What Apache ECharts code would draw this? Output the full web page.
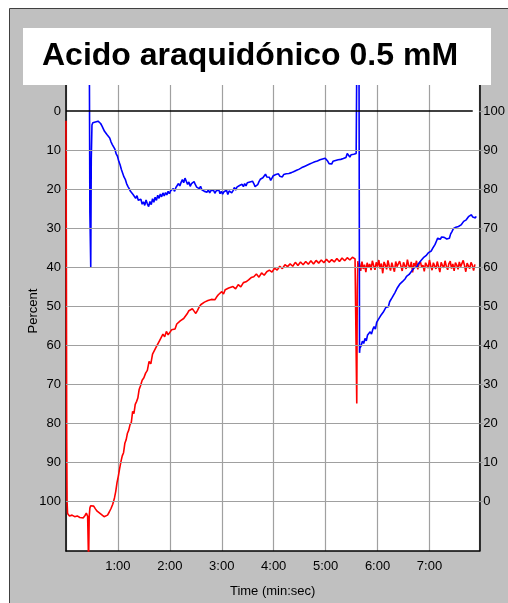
<!DOCTYPE html>
<html>
<head>
<meta charset="utf-8">
<script src="https://cdn.jsdelivr.net/npm/echarts@6/dist/echarts.min.js"></script>
<style>
html,body{margin:0;padding:0;background:#fff;}
#chart{width:508px;height:603px;}
</style>
</head>
<body>
<div id="chart"></div>
<script>
// ---- data (time in seconds, value in percent on left axis) ----
const titleText = 'Acido araquidónico 0.5 mM';
const yAxisTitle = 'Percent';
const xTicks = [60, 120, 180, 240, 300, 360, 420];
const xTickLabels = ['1:00', '2:00', '3:00', '4:00', '5:00', '6:00', '7:00'];
const yTicks = [0, 10, 20, 30, 40, 50, 60, 70, 80, 90, 100];
const yRightLabels = [100, 90, 80, 70, 60, 50, 40, 30, 20, 10, 0];

const redT = [0,0.4,0.8,1.2,1.8,4,7,10,13,16,18,20,22,23.5,25,25.8,26.1,26.5,26.8,27.6,28.5,30,32,34,36,38,40,42,44,46,48,50,52,54,56,57.5,59,60.5,62,63.5,65,66.5,68,69.5,71,72.5,74,75.5,77,78.5,80,81.5,83,84.5,86,88,90,92,94,96,98,100,102,104,106,108,110,112,114,116,118,120,122,124,126,128,130,132,134,136,138,140,142,144,146,148,150,152,154,156,158,160,162,164,166,168,170,172,174,176,178,180,182,184,186,188,190,193,196,199,202,205,208,211,214,217,220,223,226,229,232,235,238,241,244,247,250,253,256,259,262,265,268,271,274,277,280,283,286,289,292,295,298,301,304,307,310,313,316,319,322,325,328,331,334,336,336.6,337.2,337.8,339,340.5,342,343.5,345,346.5,348,349.5,351,352.5,354,355.5,357,358.5,360,361.5,363,364.5,366,367.5,369,370.5,372,373.5,375,376.5,378,379.5,381,382.5,384,385.5,387,388.5,390,391.5,393,394.5,396,397.5,399,400.5,402,403.5,405,406.5,408,409.5,411,412.5,414,415.5,417,418.5,420,421.5,423,424.5,426,427.5,429,430.5,432,433.5,435,436.5,438,439.5,441,442.5,444,445.5,447,448.5,450,451.5,453,454.5,456,457.5,459,460.5,462,463.5,465,466.5,468,469.5,471,472.5,474];
const redV = [2.5,40,84,100,103.2,103.8,103.6,104.0,103.8,104.2,103.9,104.3,103.7,103.1,103.9,104.2,116,116,104,101.8,101.2,101.5,101.3,102.0,102.6,102.9,103.3,103.8,104.0,103.9,103.6,102.8,101.9,100.8,99.2,97.5,95.2,93.6,91.6,89.9,88.4,87.6,85.2,84.3,82.6,81.8,80.4,79.8,77.0,77.6,75.2,74.5,73.6,71.4,70.5,69.0,68.4,67.2,66.5,64.2,64.8,62.3,61.9,60.6,60.1,58.9,58.4,57.2,57.9,56.5,57.4,57.0,56.1,55.6,55.9,54.6,54.9,53.8,54.1,53.2,52.9,52.0,51.2,51.6,50.7,51.3,51.9,51.1,50.2,49.6,49.8,49.0,49.4,48.6,48.9,48.3,48.0,48.4,47.7,47.1,46.6,46.3,46.9,45.8,46.2,45.4,45.8,45.0,45.6,44.5,45.1,44.0,43.8,43.3,42.7,42.5,41.8,42.6,41.5,42.1,41.2,40.8,41.3,40.3,40.8,39.8,40.4,39.4,39.9,39.2,39.8,38.8,39.6,38.7,39.4,38.6,39.3,38.4,39.2,38.3,39.0,38.2,38.9,38.0,38.8,38.1,38.7,37.8,38.6,37.7,38.4,37.6,38.2,37.5,37.9,75,46,38.5,40.2,39.0,41.0,38.6,40.5,39.4,41.3,38.9,40.1,39.2,40.8,38.4,39.6,40.7,38.8,39.9,38.2,40.4,39.1,41.6,38.7,39.5,40.6,38.3,39.8,40.9,38.9,39.4,41.2,38.6,39.9,40.3,38.5,39.7,41.0,38.8,39.3,40.5,38.1,39.6,40.2,38.7,41.4,39.0,39.8,38.4,40.6,39.2,38.6,40.1,39.5,41.1,38.9,39.4,40.3,38.2,39.7,40.8,38.9,39.3,40.5,38.6,39.9,41.3,38.8,39.6,40.2,38.4,39.8,40.7,39.1,38.5,40.4,39.2,41.0,38.9,39.5,40.6,38.7,39.9,40.3,38.3,39.6,41.2,39.0,39.7,40.4,38.8,39.5,40.9,39.3];

const blueT = [27.0,27.6,28.6,29.2,30.0,31,32.5,34,35.5,37,38.5,40,41.5,43,44.5,46,47.5,49,50.5,52,53.5,55,56.5,58,59.5,61,62.5,64,65.5,67,68.5,70,71.5,73,74.5,76,77.5,79,80.5,82,83.5,85,86.5,88,89.5,91,92.5,94,95.5,97,98.5,100,101.5,103,104.5,106,107.5,109,110.5,112,113.5,115,116.5,118,119.5,121,122.5,124,125.5,127,128.5,130,131.5,133,134.5,136,137.5,139,140.5,142,143.5,145,146.5,148,149.5,151,152.5,154,155.5,157,158.5,160,161.5,163,164.5,166,167.5,169,170.5,172,173.5,175,176.5,178,179.5,181,182.5,184,185.5,187,188.5,190,191.5,193,194.5,196,197.5,199,200.5,202,203.5,205,206.5,208,209.5,211,212.5,214,215.5,217,218.5,220,221.5,223,224.5,226,227.5,229,230.5,232,233.5,235,236.5,238,239.5,241,242.5,244,245.5,247,248.5,250,251.5,253,254.5,256,257.5,259,260.5,262,263.5,265,266.5,268,269.5,271,272.5,274,275.5,277,278.5,280,281.5,283,284.5,286,287.5,289,290.5,292,293.5,295,296.5,298,299.5,301,302.5,304,305.5,307,308.5,310,311.5,313,314.5,316,317.5,319,320.5,322,323.5,325,326.5,328,329.5,331,332.5,334,335.3,336,338.6,339.2,339.6,341,342.5,344,345.5,347,348.5,350,351.5,353,354.5,356,357.5,359,360.5,362,363.5,365,366.5,368,369.5,371,372.5,374,375.5,377,378.5,380,381.5,383,384.5,386,387.5,389,390.5,392,393.5,395,396.5,398,399.5,401,402.5,404,405.5,407,408.5,410,411.5,413,414.5,416,417.5,419,420.5,422,423.5,425,426.5,428,429.5,431,432.5,434,435.5,437,438.5,440,441.5,443,444.5,446,447.5,449,450.5,452,453.5,455,456.5,458,459.5,461,462.5,464,465.5,467,468.5,470,471.5,473,474];
const blueV = [-12,26,40,12.5,3.6,3.0,3.3,2.8,3.1,2.6,3.0,3.2,3.8,4.3,5.2,5.0,6.1,6.4,6.9,7.9,8.6,9.2,9.8,11.0,11.6,12.9,13.8,15.0,15.5,16.9,17.5,18.6,19.3,19.9,20.6,20.3,21.4,21.9,22.4,21.7,22.9,23.4,22.6,23.9,23.3,24.2,22.8,23.8,24.5,23.2,24.0,22.5,23.4,22.1,22.9,21.6,22.4,21.3,22.0,21.0,21.8,20.9,21.5,20.6,21.2,20.4,20.9,19.9,20.6,19.6,19.1,18.6,19.2,18.3,17.6,18.4,17.2,18.0,18.8,18.2,19.3,18.6,19.0,18.1,18.9,19.5,19.1,19.9,19.3,20.2,19.8,20.6,20.1,20.8,20.2,21.0,20.4,20.9,20.3,21.1,20.5,20.9,20.2,21.2,20.6,21.3,20.7,21.0,20.3,21.4,20.5,20.1,21.0,20.4,19.6,20.3,19.5,19.9,19.1,19.6,18.8,19.4,18.6,19.2,18.4,18.9,18.2,18.7,18.0,18.6,19.4,19.8,18.9,18.1,17.5,17.9,17.1,16.6,16.2,16.9,17.4,17.0,17.8,17.2,16.6,17.1,16.3,16.8,16.1,16.7,16.2,16.9,16.3,16.8,16.1,16.6,16.0,16.5,15.8,16.2,15.5,15.9,15.2,15.6,14.9,15.1,14.5,14.9,14.2,14.6,13.9,14.3,13.6,14.0,13.3,13.7,13.0,13.4,12.8,13.2,12.5,12.9,12.3,12.7,12.1,12.6,12.9,13.5,13.0,13.6,12.9,13.3,12.7,13.1,12.5,12.9,12.4,12.8,12.2,12.6,11.9,10.9,11.4,11.8,11.2,11.7,11.1,11.5,10.9,-12,-12,62,60.8,60.2,59.0,59.6,58.3,58.9,57.4,57.9,56.6,57.2,56.0,55.3,55.9,54.2,53.6,53.9,52.5,52.1,51.6,51.9,50.4,49.9,50.2,48.9,48.4,47.8,47.2,46.6,46.1,45.3,44.9,44.3,44.6,43.7,43.4,43.0,42.4,42.7,41.9,41.6,41.0,40.6,40.2,39.8,39.9,39.2,38.9,38.4,38.0,37.6,37.8,37.1,36.8,36.3,36.5,35.9,35.3,34.8,34.2,33.4,32.6,32.1,32.9,32.3,31.8,32.4,32.0,32.8,33.2,32.6,31.5,30.9,30.2,30.4,29.8,30.3,29.6,29.9,29.2,28.8,28.3,28.6,27.9,27.5,27.0,27.3,26.6,27.2,26.9,27.4,27.0];

// ---- chart ----
const redData = redT.map((t, i) => [t, redV[i]]);
const blueData = blueT.map((t, i) => [t, blueV[i]]);
const fontFamily = '"Liberation Sans", Arial, sans-serif';
const gridColor = '#a0a0a0';

const chart = echarts.init(document.getElementById('chart'), null, {renderer: 'canvas'});
chart.setOption({
  animation: false,
  backgroundColor: 'transparent',
  textStyle: {fontFamily: fontFamily},
  graphic: [
    {type: 'rect', z: -10, silent: true,
     shape: {x: 9.5, y: 8.5, width: 520, height: 620},
     style: {fill: '#c0c0c0', stroke: '#404040', lineWidth: 1}},
    {type: 'rect', z: 100, silent: true,
     shape: {x: 23, y: 28, width: 468, height: 57},
     style: {fill: '#ffffff'}},
    {type: 'text', z: 101, silent: true, x: 250, y: 56,
     style: {text: titleText, fill: '#000', font: 'bold 32px ' + fontFamily,
             textAlign: 'center', textVerticalAlign: 'middle'}},
    {type: 'text', z: 50, silent: true, x: 33, y: 311, rotation: Math.PI / 2,
     style: {text: yAxisTitle, fill: '#000', font: '13px ' + fontFamily,
             textAlign: 'center', textVerticalAlign: 'middle'}}
  ],
  grid: {left: 66, top: 72, right: 27.7, bottom: 52, show: true,
         backgroundColor: '#ffffff', borderWidth: 0, containLabel: false},
  xAxis: {
    type: 'value', min: 0, max: 477.6, interval: 60,
    name: 'Time (min:sec)', nameLocation: 'middle', nameGap: 34,
    nameTextStyle: {color: '#000', fontSize: 13, fontFamily: fontFamily},
    axisLine: {show: true, onZero: false, lineStyle: {color: '#000', width: 1.5}},
    axisTick: {show: false},
    splitLine: {show: true, lineStyle: {color: gridColor, width: 1.2}},
    axisLabel: {color: '#000', fontSize: 13, margin: 9, fontFamily: fontFamily,
      showMinLabel: false, showMaxLabel: false,
      formatter: v => { const i = xTicks.indexOf(v); return i >= 0 ? xTickLabels[i] : ''; }}
  },
  yAxis: [
    {
      type: 'value', inverse: true, min: -10, max: 112.8, interval: 10, position: 'left',
      axisLine: {show: true, onZero: false, lineStyle: {color: '#000', width: 1.5}},
      axisTick: {show: false},
      splitLine: {show: false},
      axisLabel: {color: '#000', fontSize: 13, margin: 5, fontFamily: fontFamily,
        customValues: yTicks,
        formatter: v => (yTicks.indexOf(v) >= 0 ? String(v) : '')}
    },
    {
      type: 'value', inverse: true, min: -10, max: 112.8, interval: 10, position: 'right',
      axisLine: {show: true, onZero: false, lineStyle: {color: '#000', width: 1.5}},
      axisTick: {show: true, inside: false, length: 4, customValues: yTicks,
                 lineStyle: {color: gridColor, width: 1.2}},
      splitLine: {show: false},
      axisLabel: {color: '#000', fontSize: 13, margin: 4, fontFamily: fontFamily,
        customValues: yTicks,
        formatter: v => { const i = yTicks.indexOf(v); return i >= 0 ? String(yRightLabels[i]) : ''; }}
    }
  ],
  series: [
    {
      type: 'line', data: [], z: 1, silent: true,
      markLine: {
        silent: true, symbol: 'none', animation: false,
        label: {show: false}, emphasis: {disabled: true},
        lineStyle: {color: gridColor, width: 1.2, type: 'solid'},
        data: yTicks.filter(v => v !== 0).map(v => ({yAxis: v}))
      }
    },
    {
      type: 'line', data: [], z: 1, silent: true,
      markLine: {
        silent: true, symbol: 'none', animation: false,
        label: {show: false}, emphasis: {disabled: true},
        lineStyle: {color: '#000', width: 1.5, type: 'solid'},
        data: [[{coord: [0, 0]}, {coord: [470, 0]}]]
      }
    },
    {
      name: 'red', type: 'line', data: redData, z: 2, showSymbol: false, symbol: 'none',
      clip: true, sampling: null, smooth: false,
      lineStyle: {color: '#ff0000', width: 1.6}, emphasis: {disabled: true}
    },
    {
      name: 'blue', type: 'line', data: blueData, z: 3, showSymbol: false, symbol: 'none',
      clip: true, smooth: false,
      lineStyle: {color: '#0000ff', width: 1.6}, emphasis: {disabled: true}
    }
  ]
});
</script>
</body>
</html>
